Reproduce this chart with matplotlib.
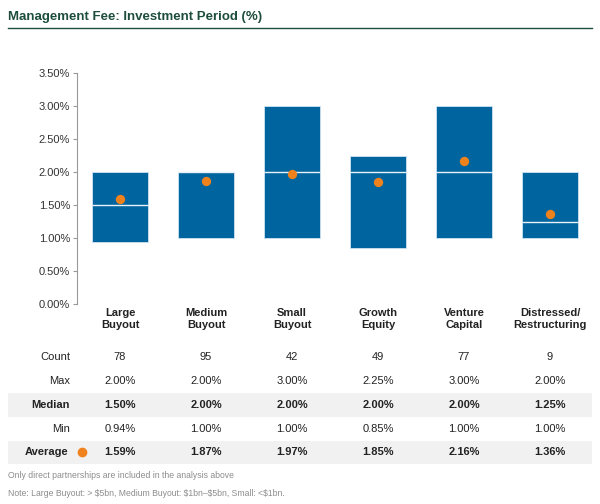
import matplotlib
matplotlib.use("Agg")
import matplotlib.pyplot as plt
from matplotlib.patches import Rectangle
from matplotlib.transforms import blended_transform_factory

plt.rcParams['font.family'] = ['Liberation Sans', 'DejaVu Sans']

# data
categories = ['Large\nBuyout', 'Medium\nBuyout', 'Small\nBuyout', 'Growth\nEquity',
              'Venture\nCapital', 'Distressed/\nRestructuring']
counts = [78, 95, 42, 49, 77, 9]
maxs = [2.00, 2.00, 3.00, 2.25, 3.00, 2.00]
medians = [1.50, 2.00, 2.00, 2.00, 2.00, 1.25]
mins = [0.94, 1.00, 1.00, 0.85, 1.00, 1.00]
averages = [1.59, 1.87, 1.97, 1.85, 2.16, 1.36]
yticks = [0.0, 0.5, 1.0, 1.5, 2.0, 2.5, 3.0, 3.5]

bar_col = '#00659e'
dot_col = '#f0821e'
green = '#1d4d3c'
W, H = 600, 504

fig = plt.figure(figsize=(6, 5.04), dpi=100)
ax = fig.add_axes([77 / W, 1 - 304 / H, (593 - 77) / W, (304 - 73) / H])

x = list(range(len(categories)))
heights = [mx - mn for mx, mn in zip(maxs, mins)]
ax.bar(x, heights, bottom=mins, width=0.65, color=bar_col,
       edgecolor='#cfe3f1', linewidth=0.6, zorder=2)
ax.hlines(medians, [i - 0.325 for i in x], [i + 0.325 for i in x],
          colors='#e8f1f8', linewidth=1.0, zorder=3)
ax.scatter(x, averages, s=45, color=dot_col, zorder=4, linewidths=0)

ax.set_xlim(-0.5, 5.5)
ax.set_ylim(0, 3.5)
ax.set_yticks(yticks)
ax.set_yticklabels(['%.2f%%' % v for v in yticks], fontsize=8, color='#333333')
ax.set_xticks(x)
ax.set_xticklabels(categories, fontsize=8, fontweight='bold', color='#222222',
                   linespacing=1.25)
ax.tick_params(axis='x', length=0, pad=3)
ax.tick_params(axis='y', length=3, width=0.8, color='#999999', pad=2)
for s in ['top', 'right', 'bottom']:
    ax.spines[s].set_visible(False)
ax.spines['left'].set_color('#999999')
ax.spines['left'].set_linewidth(0.8)

# title
fig.text(8 / W, 1 - 17 / H, 'Management Fee: Investment Period (%)', fontsize=9.5,
         fontweight='bold', color=green, va='center', ha='left')
fig.add_artist(plt.Line2D([8 / W, 592 / W], [1 - 28 / H, 1 - 28 / H],
                          color=green, linewidth=1.0))

# table below
for top, bot in [(393, 417), (441, 464)]:
    fig.patches.append(Rectangle((8 / W, 1 - bot / H), (592 - 8) / W, (bot - top) / H,
                                 transform=fig.transFigure, facecolor='#f1f1f1',
                                 edgecolor='none', zorder=0))

tr = blended_transform_factory(ax.transData, fig.transFigure)
rows = [
    ('Count', [str(c) for c in counts], 357, 'normal'),
    ('Max', ['%.2f%%' % v for v in maxs], 381, 'normal'),
    ('Median', ['%.2f%%' % v for v in medians], 405, 'bold'),
    ('Min', ['%.2f%%' % v for v in mins], 429, 'normal'),
    ('Average', ['%.2f%%' % v for v in averages], 452, 'bold'),
]
for label, vals, ypx, wt in rows:
    yf = 1 - ypx / H
    rx = 68 if label == 'Average' else 70
    fig.text(rx / W, yf, label, ha='right', va='center', fontsize=8,
             fontweight=wt, color='#222222')
    for i, v in enumerate(vals):
        fig.text(x[i], yf, v, transform=tr, ha='center', va='center', fontsize=8,
                 fontweight=wt, color='#222222')
fig.add_artist(plt.Line2D([82 / W], [1 - 452 / H], marker='o', markersize=6,
                          color=dot_col, linestyle='none'))

fig.text(8 / W, 1 - 476 / H, 'Only direct partnerships are included in the analysis above',
         fontsize=6.2, color='#8c8c8c', va='center')
fig.text(8 / W, 1 - 494 / H,
         'Note: Large Buyout: > \\$5bn, Medium Buyout: \\$1bn\u2013\\$5bn, Small: <\\$1bn.',
         fontsize=6.2, color='#8c8c8c', va='center')

fig.savefig('out.png', dpi=100)
